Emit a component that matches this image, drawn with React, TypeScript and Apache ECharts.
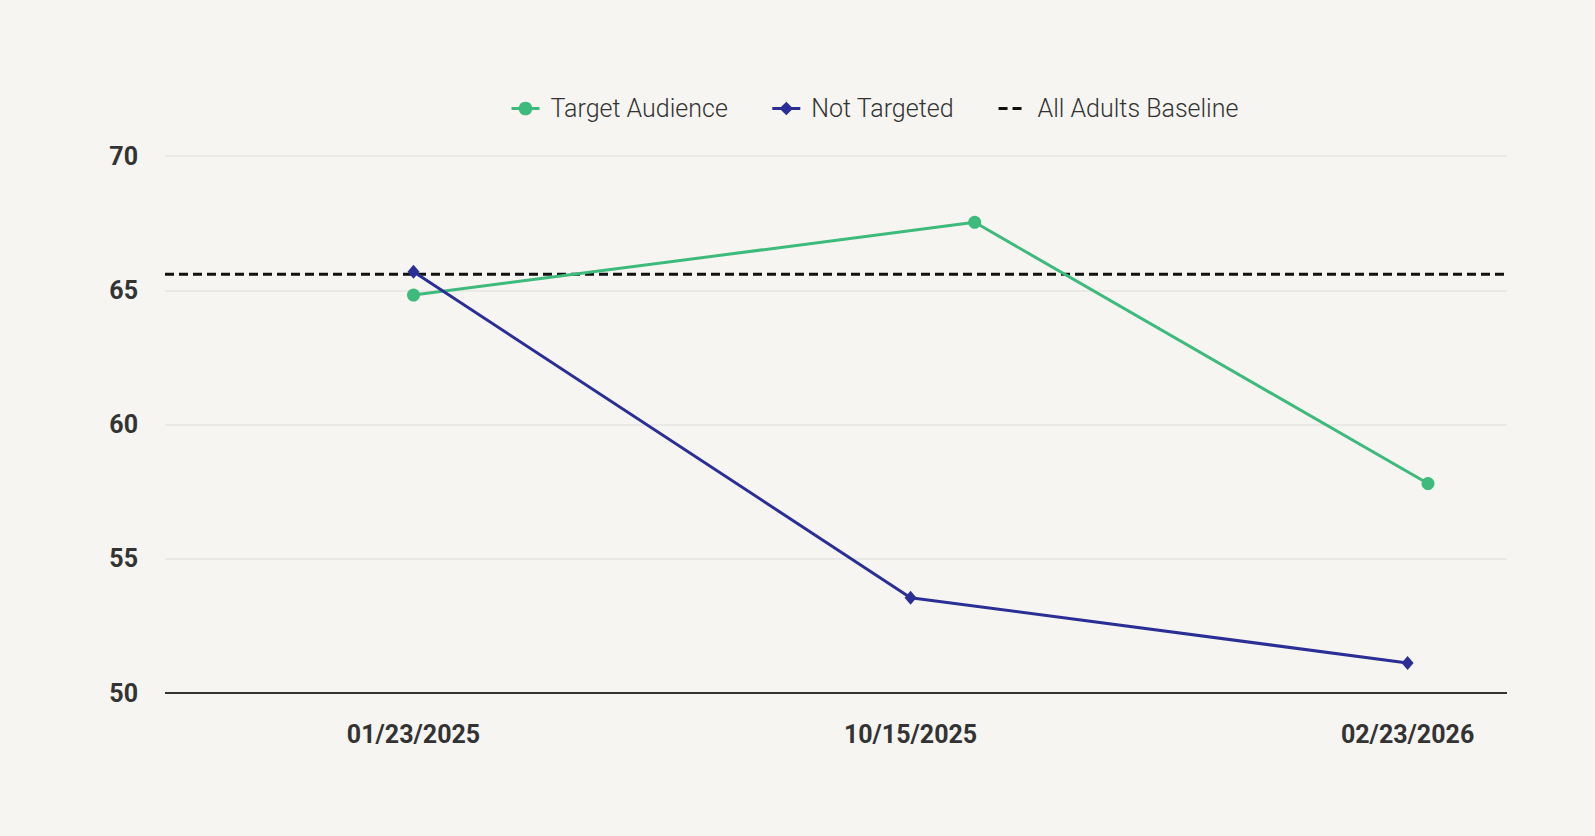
import React, { useEffect, useRef } from "react";
import * as echarts from "echarts";

const dateLabels = ["01/23/2025", "10/15/2025", "02/23/2026"];
const labelPositions = [0, 1, 2];
const targetX = [0, 1.129, 2.041];
const targetY = [64.82, 67.53, 57.8];
const notTargetedX = [0, 1, 2];
const notTargetedY = [65.69, 53.55, 51.12];
const baselineValue = 65.6;
const xRange = [-0.5, 2.2];
const yTicks = [50, 55, 60, 65, 70];

export default function App() {
  const ref = useRef<HTMLDivElement>(null);
  useEffect(() => {
    document.body.style.margin = "0";
    document.body.style.background = "#f6f5f1";
    const chart = echarts.init(ref.current!, null, { renderer: "svg" });
    const font = "Roboto";
    chart.setOption({
      animation: false,
      backgroundColor: "#f6f5f1",
      textStyle: { fontFamily: font },
      legend: {
        top: 91,
        left: 505,
        itemWidth: 28,
        itemHeight: 17,
        itemGap: 43,
        lineStyle: { width: 3 },
        textStyle: {
          fontFamily: font,
          fontSize: 25,
          color: "#333",
          fontWeight: 300,
          padding: [0, 0, 0, 6],
        },
        data: [
          "Target Audience",
          "Not Targeted",
          { name: "All Adults Baseline", itemStyle: { opacity: 0 } },
        ],
      },
      grid: { left: 165, right: 88, top: 156, bottom: 143, containLabel: false },
      xAxis: {
        type: "value",
        min: xRange[0],
        max: xRange[1],
        splitLine: { show: false },
        axisLine: { show: false },
        axisTick: { show: false },
        axisLabel: {
          customValues: labelPositions,
          formatter: (v: number) => dateLabels[Math.round(v)] ?? "",
          fontFamily: font,
          fontSize: 25,
          fontWeight: 700,
          color: "#333",
          margin: 29,
        },
      },
      yAxis: {
        type: "value",
        min: yTicks[0],
        max: yTicks[yTicks.length - 1],
        interval: 5,
        axisLine: { show: false },
        axisTick: { show: false },
        axisLabel: {
          fontFamily: font,
          fontSize: 25,
          fontWeight: 700,
          color: "#333",
          margin: 27,
        },
        splitLine: { lineStyle: { color: "#e6e4e1", width: 1.5 } },
      },
      series: [
        {
          name: "All Adults Baseline",
          type: "line",
          data: [
            [xRange[0], baselineValue],
            [xRange[1], baselineValue],
          ],
          symbol: "none",
          lineStyle: { color: "#111", width: 3, type: [9, 5] },
          itemStyle: { color: "#111" },
          z: 1,
        },
        {
          name: "Target Audience",
          type: "line",
          data: targetX.map((x, i) => [x, targetY[i]]),
          symbol: "circle",
          symbolSize: 13,
          lineStyle: { color: "#3dba7c", width: 3 },
          itemStyle: { color: "#3dba7c" },
          z: 3,
        },
        {
          name: "Not Targeted",
          type: "line",
          data: notTargetedX.map((x, i) => [x, notTargetedY[i]]),
          symbol: "diamond",
          symbolSize: [12, 14],
          lineStyle: { color: "#2b2e95", width: 3 },
          itemStyle: { color: "#2b2e95" },
          z: 3,
        },
        {
          name: "axis",
          type: "line",
          data: [
            [xRange[0], yTicks[0]],
            [xRange[1], yTicks[0]],
          ],
          symbol: "none",
          silent: true,
          lineStyle: { color: "#333", width: 2 },
          z: 2,
        },
      ],
    });
    return () => chart.dispose();
  }, []);
  return <div ref={ref} style={{ width: 1595, height: 836 }} />;
}
